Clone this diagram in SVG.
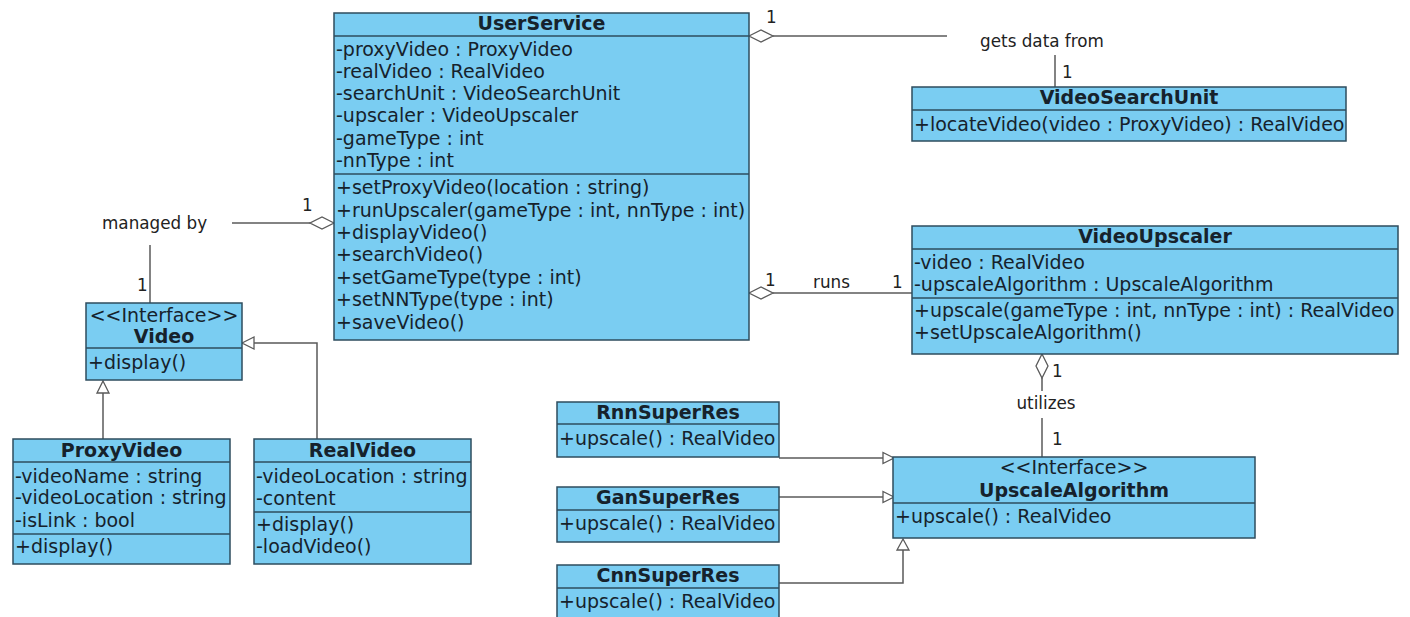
<svg xmlns="http://www.w3.org/2000/svg" width="1410" height="617" viewBox="0 0 1410 617">
  <style>
    .box { fill: #7acdf2; stroke: #2e4c5e; stroke-width: 1.5; }
    .sep { stroke: #2e4c5e; stroke-width: 1.5; fill: none; }
    .t { font-family: "DejaVu Sans", "Liberation Sans", sans-serif; font-size: 19px; fill: #16222c; }
    .title { font-weight: bold; text-anchor: middle; }
    .mid { text-anchor: middle; }
    .lbl { font-family: "DejaVu Sans", "Liberation Sans", sans-serif; font-size: 16.8px; fill: #222; }
    .edge { stroke: #5a5a5a; stroke-width: 1.5; fill: none; }
    .head { stroke: #5a5a5a; stroke-width: 1.3; fill: #fff; }
  </style>

  <rect width="1410" height="617" fill="#fff"/>

  <!-- connectors -->
  <g id="connectors">
    <!-- UserService aggregates VideoSearchUnit -->
    <polyline class="edge" points="773,36 947,36"/>
    <polygon class="head" points="749,36 761,30 773,36 761,42"/>
    <line class="edge" x1="1055" y1="55" x2="1055" y2="87"/>
    <text class="lbl" x="766" y="23">1</text>
    <text class="lbl mid" x="1042" y="47">gets data from</text>
    <text class="lbl" x="1062" y="78">1</text>

    <!-- UserService aggregates VideoUpscaler -->
    <line class="edge" x1="773" y1="293" x2="912" y2="293"/>
    <polygon class="head" points="749,293 761,287 773,293 761,299"/>
    <text class="lbl" x="765" y="286">1</text>
    <text class="lbl" x="813" y="288">runs</text>
    <text class="lbl" x="892" y="288">1</text>

    <!-- UserService aggregates Video -->
    <line class="edge" x1="232" y1="223" x2="310" y2="223"/>
    <polygon class="head" points="334,223 322,217 310,223 322,229"/>
    <line class="edge" x1="150" y1="245" x2="150" y2="303"/>
    <text class="lbl" x="102" y="229">managed by</text>
    <text class="lbl" x="302" y="211">1</text>
    <text class="lbl" x="137" y="291">1</text>

    <!-- VideoUpscaler aggregates UpscaleAlgorithm -->
    <line class="edge" x1="1042" y1="378" x2="1042" y2="391"/>
    <line class="edge" x1="1042" y1="418" x2="1042" y2="457"/>
    <polygon class="head" points="1042,354 1048,366 1042,378 1036,366"/>
    <text class="lbl" x="1052" y="377">1</text>
    <text class="lbl mid" x="1046" y="409">utilizes</text>
    <text class="lbl" x="1052" y="445">1</text>

    <!-- ProxyVideo realizes Video -->
    <line class="edge" x1="103" y1="439" x2="103" y2="393"/>
    <polygon class="head" points="103,381 109,393 97,393"/>

    <!-- RealVideo realizes Video -->
    <polyline class="edge" points="317,439 317,343 254,343"/>
    <polygon class="head" points="242,343 254,337 254,349"/>

    <!-- SuperRes variants realize UpscaleAlgorithm -->
    <line class="edge" x1="779" y1="458" x2="883" y2="458"/>
    <polygon class="head" points="894,458 883,452.5 883,463.5"/>
    <line class="edge" x1="779" y1="497" x2="883" y2="497"/>
    <polygon class="head" points="894,497 883,491.5 883,502.5"/>
    <polyline class="edge" points="779,583 903,583 903,550"/>
    <polygon class="head" points="903,539 909,550 897,550"/>
  </g>

  <!-- UserService -->
  <g id="UserService">
    <rect class="box" x="334" y="13" width="415" height="327"/>
    <line class="sep" x1="334" y1="36" x2="749" y2="36"/>
    <line class="sep" x1="334" y1="174" x2="749" y2="174"/>
    <text class="t title" x="541.5" y="30">UserService</text>
    <text class="t" x="336" y="55.5">-proxyVideo : ProxyVideo</text>
    <text class="t" x="336" y="77.5">-realVideo : RealVideo</text>
    <text class="t" x="336" y="100">-searchUnit : VideoSearchUnit</text>
    <text class="t" x="336" y="122">-upscaler : VideoUpscaler</text>
    <text class="t" x="336" y="145">-gameType : int</text>
    <text class="t" x="336" y="167">-nnType : int</text>
    <text class="t" x="336" y="194">+setProxyVideo(location : string)</text>
    <text class="t" x="336" y="216.5">+runUpscaler(gameType : int, nnType : int)</text>
    <text class="t" x="336" y="239">+displayVideo()</text>
    <text class="t" x="336" y="261">+searchVideo()</text>
    <text class="t" x="336" y="283.5">+setGameType(type : int)</text>
    <text class="t" x="336" y="306">+setNNType(type : int)</text>
    <text class="t" x="336" y="328.5">+saveVideo()</text>
  </g>

  <!-- VideoSearchUnit -->
  <g id="VideoSearchUnit">
    <rect class="box" x="912" y="87" width="434" height="54"/>
    <line class="sep" x1="912" y1="110" x2="1346" y2="110"/>
    <text class="t title" x="1129" y="104">VideoSearchUnit</text>
    <text class="t" x="914" y="131">+locateVideo(video : ProxyVideo) : RealVideo</text>
  </g>

  <!-- VideoUpscaler -->
  <g id="VideoUpscaler">
    <rect class="box" x="912" y="226" width="486" height="128"/>
    <line class="sep" x1="912" y1="249" x2="1398" y2="249"/>
    <line class="sep" x1="912" y1="298" x2="1398" y2="298"/>
    <text class="t title" x="1155" y="243">VideoUpscaler</text>
    <text class="t" x="914" y="268.5">-video : RealVideo</text>
    <text class="t" x="914" y="290.5">-upscaleAlgorithm : UpscaleAlgorithm</text>
    <text class="t" x="914" y="316.5">+upscale(gameType : int, nnType : int) : RealVideo</text>
    <text class="t" x="914" y="338.5">+setUpscaleAlgorithm()</text>
  </g>

  <!-- UpscaleAlgorithm -->
  <g id="UpscaleAlgorithm">
    <rect class="box" x="893" y="457" width="362" height="81"/>
    <line class="sep" x1="893" y1="503" x2="1255" y2="503"/>
    <text class="t mid" x="1074" y="474">&lt;&lt;Interface&gt;&gt;</text>
    <text class="t title" x="1074" y="497">UpscaleAlgorithm</text>
    <text class="t" x="895" y="523">+upscale() : RealVideo</text>
  </g>

  <!-- RnnSuperRes -->
  <g id="RnnSuperRes">
    <rect class="box" x="557" y="402" width="222" height="55"/>
    <line class="sep" x1="557" y1="424" x2="779" y2="424"/>
    <text class="t title" x="668" y="419">RnnSuperRes</text>
    <text class="t" x="559" y="445">+upscale() : RealVideo</text>
  </g>

  <!-- GanSuperRes -->
  <g id="GanSuperRes">
    <rect class="box" x="557" y="487" width="222" height="55"/>
    <line class="sep" x1="557" y1="510" x2="779" y2="510"/>
    <text class="t title" x="668" y="504">GanSuperRes</text>
    <text class="t" x="559" y="530">+upscale() : RealVideo</text>
  </g>

  <!-- CnnSuperRes -->
  <g id="CnnSuperRes">
    <rect class="box" x="557" y="565" width="222" height="62"/>
    <line class="sep" x1="557" y1="588" x2="779" y2="588"/>
    <text class="t title" x="668" y="582">CnnSuperRes</text>
    <text class="t" x="559" y="608">+upscale() : RealVideo</text>
  </g>

  <!-- Video -->
  <g id="Video">
    <rect class="box" x="86" y="303" width="156" height="77"/>
    <line class="sep" x1="86" y1="348" x2="242" y2="348"/>
    <text class="t mid" x="164" y="322">&lt;&lt;Interface&gt;&gt;</text>
    <text class="t title" x="164" y="343">Video</text>
    <text class="t" x="88" y="369">+display()</text>
  </g>

  <!-- ProxyVideo -->
  <g id="ProxyVideo">
    <rect class="box" x="13" y="439" width="217" height="125"/>
    <line class="sep" x1="13" y1="462" x2="230" y2="462"/>
    <line class="sep" x1="13" y1="534" x2="230" y2="534"/>
    <text class="t title" x="121.5" y="457">ProxyVideo</text>
    <text class="t" x="15" y="483">-videoName : string</text>
    <text class="t" x="15" y="504">-videoLocation : string</text>
    <text class="t" x="15" y="527">-isLink : bool</text>
    <text class="t" x="15" y="553">+display()</text>
  </g>

  <!-- RealVideo -->
  <g id="RealVideo">
    <rect class="box" x="254" y="439" width="217" height="125"/>
    <line class="sep" x1="254" y1="462" x2="471" y2="462"/>
    <line class="sep" x1="254" y1="512" x2="471" y2="512"/>
    <text class="t title" x="362.5" y="457">RealVideo</text>
    <text class="t" x="256" y="483">-videoLocation : string</text>
    <text class="t" x="256" y="505">-content</text>
    <text class="t" x="256" y="531">+display()</text>
    <text class="t" x="256" y="553">-loadVideo()</text>
  </g>
</svg>
